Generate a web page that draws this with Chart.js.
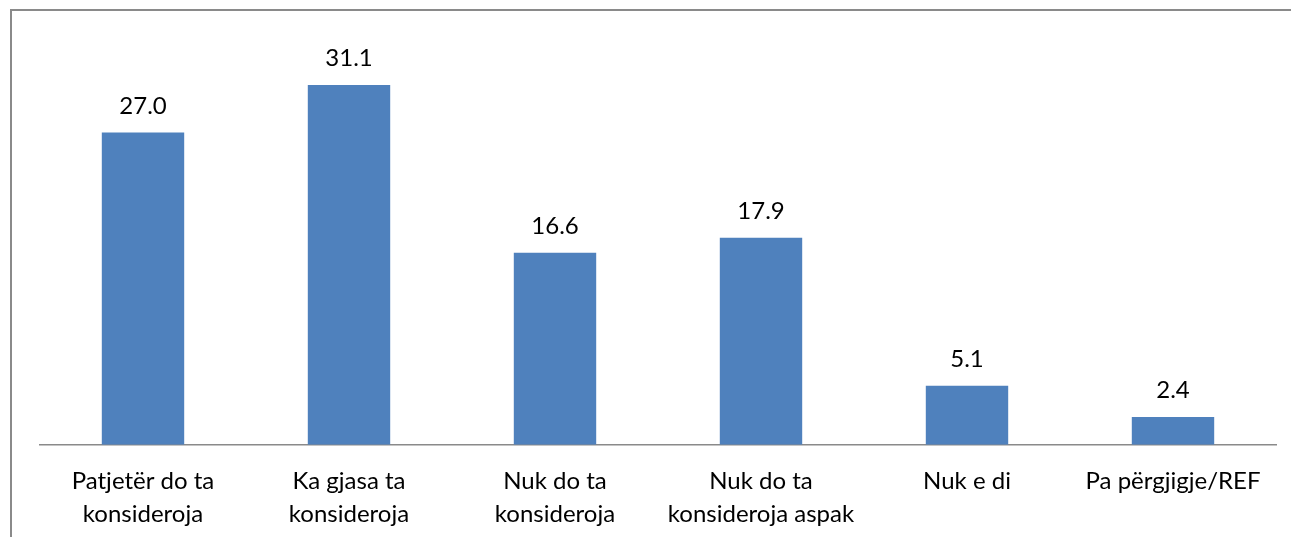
<!DOCTYPE html>
<html>
<head>
<meta charset="utf-8">
<script src="https://cdn.jsdelivr.net/npm/chart.js@4.4.1/dist/chart.umd.min.js"></script>
<style>
  html, body { margin: 0; padding: 0; background: #fff; }
  #frame {
    position: absolute; left: 10px; top: 9px; right: 0; bottom: 0;
    border-left: 2px solid #8a8a8a; border-top: 2px solid #8a8a8a;
  }
  #wrap { position: absolute; left: 0; top: 0; width: 1291px; height: 537px; }
</style>
</head>
<body>
<div id="frame"></div>
<div id="wrap"><canvas id="chart"></canvas></div>
<script>
// categories (multi-line labels as in the original)
const categories = [
  ["Patjetër do ta", "konsideroja"],
  ["Ka gjasa ta", "konsideroja"],
  ["Nuk do ta", "konsideroja"],
  ["Nuk do ta", "konsideroja aspak"],
  "Nuk e di",
  "Pa përgjigje/REF"
];
const values = [27.0, 31.1, 16.6, 17.9, 5.1, 2.4];
const yMin = 0;
const yMax = 35;

const FONT = "Lato, 'Liberation Sans', sans-serif";

// value labels above bars
const barLabels = {
  id: "barLabels",
  afterDatasetsDraw(chart) {
    const ctx = chart.ctx;
    const meta = chart.getDatasetMeta(0);
    ctx.save();
    ctx.font = "24px " + FONT;
    ctx.fillStyle = "#000";
    ctx.textAlign = "center";
    ctx.textBaseline = "alphabetic";
    meta.data.forEach((bar, i) => {
      ctx.fillText(values[i].toFixed(1), bar.x, bar.y - 19);
    });
    ctx.restore();
  }
};

const ctx = document.getElementById("chart").getContext("2d");
new Chart(ctx, {
  type: "bar",
  data: {
    labels: categories,
    datasets: [{
      data: values,
      backgroundColor: "#4F81BD",
      borderWidth: 0,
      barPercentage: 0.4,
      categoryPercentage: 1.0
    }]
  },
  options: {
    responsive: true,
    maintainAspectRatio: false,
    animation: false,
    layout: { padding: { top: 40, left: 40, right: 15, bottom: -14 } },
    plugins: {
      legend: { display: false },
      tooltip: { enabled: false }
    },
    scales: {
      x: {
        grid: { display: false, drawTicks: false },
        border: { display: true, color: "#8a8a8a", width: 1.5 },
        ticks: {
          color: "#000",
          padding: 20,
          maxRotation: 0,
          autoSkip: false,
          font: { family: FONT, size: 24, lineHeight: 1.38 }
        }
      },
      y: {
        display: false,
        min: yMin,
        max: yMax
      }
    }
  },
  plugins: [barLabels]
});
</script>
</body>
</html>
